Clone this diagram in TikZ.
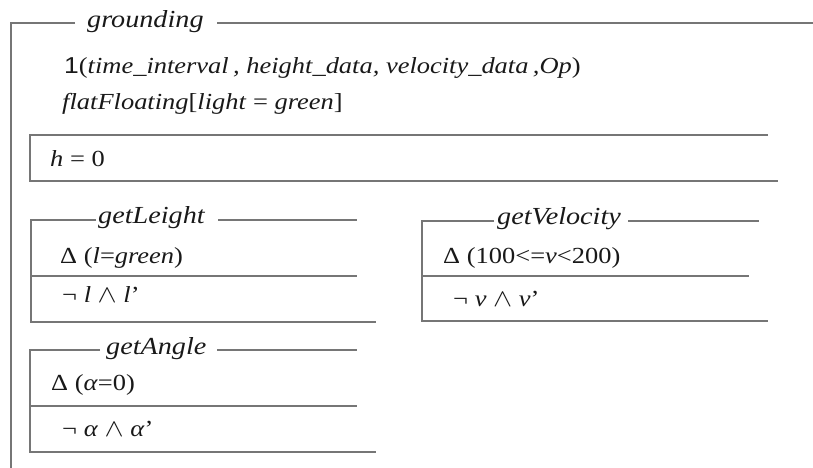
\documentclass[tikz,border=0pt]{standalone}
\usepackage{fontspec}
\setmainfont{Liberation Serif}
\newfontfamily\onefont{Liberation Sans}
\definecolor{rule}{RGB}{118,118,118}
\definecolor{ink}{RGB}{25,25,25}
\begin{document}
\begin{tikzpicture}[x=1pt,y=-1pt,
		frame/.style={draw=rule, line width=1.4pt},
		lbl/.style={anchor=base west, inner sep=0pt, text=ink, xscale=1.15, font=\fontsize{23}{27}\selectfont},
		ttl/.style={lbl, font=\fontsize{24.5}{28}\selectfont\itshape}]
				\useasboundingbox (0,0) rectangle (813,468);

				\coordinate (G1) at (11,23);
				\coordinate (G2) at (75,23);
				\coordinate (G3) at (217,23);
				\coordinate (G4) at (813,23);
				\coordinate (G5) at (11,468);

				\coordinate (H1) at (30,135);
				\coordinate (H2) at (768,135);
				\coordinate (H3) at (30,181);
				\coordinate (H4) at (778,181);

				\coordinate (L1) at (31,220);
				\coordinate (L2) at (96,220);
				\coordinate (L3) at (218,220);
				\coordinate (L4) at (357,220);
				\coordinate (L5) at (31,276);
				\coordinate (L6) at (357,276);
				\coordinate (L7) at (31,322);
				\coordinate (L8) at (376,322);

				\coordinate (V1) at (422,221);
				\coordinate (V2) at (494,221);
				\coordinate (V3) at (628,221);
				\coordinate (V4) at (759,221);
				\coordinate (V5) at (422,276);
				\coordinate (V6) at (749,276);
				\coordinate (V7) at (422,321);
				\coordinate (V8) at (768,321);

				\coordinate (A1) at (30,350);
				\coordinate (A2) at (100,350);
				\coordinate (A3) at (217,350);
				\coordinate (A4) at (357,350);
				\coordinate (A5) at (30,406);
				\coordinate (A6) at (357,406);
				\coordinate (A7) at (30,452);
				\coordinate (A8) at (376,452);

				\draw[frame] (G2) -- (G1) -- (G5);
				\draw[frame] (G3) -- (G4);

				\draw[frame] (H2) -- (H1) -- (H3) -- (H4);

				\draw[frame] (L2) -- (L1) -- (L7) -- (L8);
				\draw[frame] (L3) -- (L4);
				\draw[frame] (L5) -- (L6);

				\draw[frame] (V2) -- (V1) -- (V7) -- (V8);
				\draw[frame] (V3) -- (V4);
				\draw[frame] (V5) -- (V6);

				\draw[frame] (A2) -- (A1) -- (A7) -- (A8);
				\draw[frame] (A3) -- (A4);
				\draw[frame] (A5) -- (A6);

				\node[ttl] (grounding) at (87,27.5) {grounding};
				\node[lbl] (args) at (64,74) {{\onefont 1}(\textit{time\_interval\,, height\_data, velocity\_data\,,Op})};
				\node[lbl] (state) at (62,110) {\textit{flatFloating}[\textit{light} = \textit{green}]};
				\node[lbl] (hval) at (50,166) {\textit{h} = 0};

				\node[ttl] (getLeight) at (98,223) {getLeight};
				\node[lbl] (lpre) at (60,263) {Δ (\textit{l}=\textit{green})};
				\node[lbl] (lpost) at (62,302) {¬ \textit{l} $\wedge$ \textit{l}’};

				\node[ttl] (getVelocity) at (497,224) {getVelocity};
				\node[lbl] (vpre) at (443,263) {Δ (100<=\textit{v}<200)};
				\node[lbl] (vpost) at (453,306) {¬ \textit{v} $\wedge$ \textit{v}’};

				\node[ttl] (getAngle) at (106,354) {getAngle};
				\node[lbl] (apre) at (51,390) {Δ (\textit{α}=0)};
				\node[lbl] (apost) at (62,436) {¬ \textit{α} $\wedge$ \textit{α}’};
			\end{tikzpicture}
\end{document}
